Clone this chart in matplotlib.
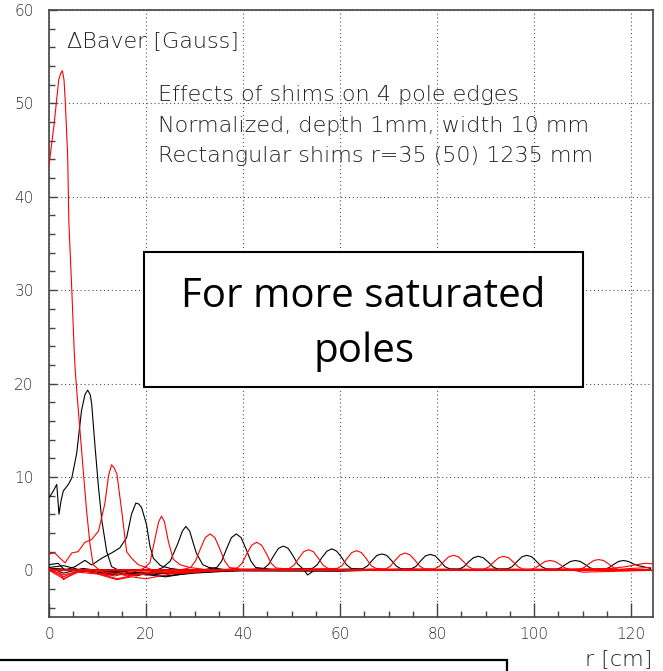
import matplotlib
matplotlib.use("Agg")
import matplotlib.pyplot as plt
from matplotlib.patches import Rectangle
from matplotlib.ticker import MultipleLocator

W, H = 663, 671

# ---- curves: r [cm] vs dB [Gauss] ----
r1_x = [0, 0.5, 1.0, 1.5, 2.0, 2.4, 2.75, 3.1, 3.4, 3.85, 4.1, 4.7, 5.2, 5.4, 6.05, 7.07, 7.76, 8.45, 9.1, 10, 12, 14, 16, 18, 21, 25, 30, 40, 124]
r1_y = [43.3, 45.5, 47.5, 50, 52.5, 53.2, 53.5, 52.5, 49.7, 44.3, 37.2, 30, 23.5, 21.4, 17.1, 10.6, 6.3, 2.8, 0.6, 0.2, -0.5, -0.3, -0.6, -0.4, -0.2, -0.3, -0.1, 0, 0]

k1_x = [0, 0.55, 1.0, 1.6, 2.06, 2.5, 2.95, 4.0, 4.7, 5.7, 6.7, 7.4, 7.97, 8.5, 8.8, 9.5, 10.2, 10.9, 11.9, 12.9, 14, 16, 18, 20, 23, 26, 30, 40, 124]
k1_y = [7.8, 8.2, 8.6, 9.2, 6.0, 7.5, 8.5, 9.2, 9.9, 12.5, 17.1, 18.8, 19.3, 18.8, 17.8, 13.2, 8.9, 5.3, 2.0, 0.4, 0.1, -0.2, -0.3, -0.5, -0.2, -0.4, -0.1, 0.05, 0]

r2_x = [0, 1.2, 2.27, 3.3, 4.7, 6.0, 7.4, 8.8, 10.2, 11.5, 12.3, 12.9, 13.4, 14.0, 15.0, 16.0, 17.0, 18.4, 20, 22, 25, 28, 32, 40, 124]
r2_y = [1.75, 1.86, 1.3, 0.8, 1.86, 2.0, 3.0, 3.3, 4.2, 7.1, 10.2, 11.3, 11.0, 10.3, 6.3, 2.0, 1.3, 0.6, 0.3, -0.1, -0.3, -0.2, -0.1, 0.1, 0]

k2_x = [0, 1.9, 3.3, 5.4, 7.4, 8.8, 10.9, 12.9, 14.6, 16.0, 17.0, 17.9, 18.5, 19.1, 20.1, 20.8, 21.5, 23, 25, 28, 32, 40, 124]
k2_y = [0.6, 0.75, 0.0, 0.4, 1.07, 0.57, 1.3, 1.86, 2.4, 3.5, 6.0, 7.2, 7.1, 6.7, 4.9, 2.6, 1.3, 0.5, 0.2, 0.0, -0.2, 0.1, 0]

r3_x = [0, 2, 3, 5, 7, 9, 11, 13.6, 16, 18, 19.5, 20.8, 21.9, 22.6, 23.2, 23.8, 24.6, 25.6, 27, 29, 32, 36, 40, 124]
r3_y = [0.2, 0.0, -1.0, -0.3, 0.1, -0.2, -0.4, -0.6, -0.3, -0.1, 0.2, 0.8, 3.5, 5.2, 5.8, 5.2, 3.1, 1.2, 0.6, 0.3, 0.1, 0.0, 0.1, 0]

k3_x = [0, 3, 6, 9, 12, 15, 18, 21, 23.5, 25, 26.5, 27.5, 28.2, 29, 29.8, 30.4, 31.7, 33, 36, 40, 124]
k3_y = [0.3, 0.5, 0.1, -0.2, -0.5, -0.3, -0.6, -0.2, 0.3, 1.0, 2.8, 4.2, 4.7, 4.2, 2.8, 1.8, 0.6, 0.3, 0.1, 0.0, 0]

r4_x = [0, 3, 6, 10, 14, 18, 22, 26, 29.2, 30.2, 31.2, 32.2, 33.2, 34.2, 35.2, 36.2, 37.2, 40, 124]
r4_y = [0.1, -0.7, 0.0, -0.3, -0.9, -0.5, -0.3, -0.1, 0.3, 1.0, 2.3, 3.5, 3.9, 3.5, 2.3, 1.0, 0.3, 0.1, 0]

k4_x = [0, 5, 10, 15, 20, 25, 30, 34.6, 35.6, 36.6, 37.6, 38.6, 39.6, 40.6, 41.6, 42.6, 46, 55, 124]
k4_y = [0.2, 0.0, -0.2, -0.1, -0.4, -0.3, -0.1, 0.3, 1.0, 2.3, 3.5, 3.9, 3.5, 2.3, 1.0, 0.3, 0.1, 0, 0]

r5_x = [0, 3, 6, 10, 14, 17, 20, 25, 30, 35, 38.8, 39.8, 40.8, 41.8, 42.8, 43.8, 44.8, 45.8, 46.8, 50, 124]
r5_y = [0.0, -0.9, -0.2, -0.4, -1.0, -0.7, -0.9, -0.4, -0.2, 0.0, 0.25, 0.75, 1.8, 2.7, 3.0, 2.7, 1.8, 0.75, 0.25, 0.1, 0]

k5_x = [0, 3, 7, 11, 15, 19, 24, 30, 40, 44.3, 45.3, 46.3, 47.3, 48.3, 49.3, 50.3, 51.3, 52.3, 53.3, 55, 70, 124]
k5_y = [0.3, -0.3, 0.2, -0.1, -0.3, -0.4, -0.7, -0.2, 0.0, 0.2, 0.65, 1.55, 2.35, 2.6, 2.35, 1.55, 0.65, 0.2, -0.5, 0.1, 0, 0]

r6_x = [0, 3, 8, 13, 17, 22, 28, 35, 48, 49.5, 50.5, 51.5, 52.5, 53.5, 54.5, 55.5, 56.5, 57.5, 60, 124]
r6_y = [0.1, -0.5, 0.1, -0.3, -0.5, -0.2, -0.3, 0, 0.1, 0.2, 0.55, 1.3, 2.0, 2.2, 2.0, 1.3, 0.55, 0.2, 0.1, 0]

k6_x = [0, 4, 9, 14, 19, 24, 30, 40, 54.3, 55.3, 56.3, 57.3, 58.3, 59.3, 60.3, 61.3, 62.3, 65, 124]
k6_y = [0.2, 0.1, -0.2, -0.4, -0.2, -0.6, -0.3, 0, 0.2, 0.6, 1.4, 2.05, 2.3, 2.05, 1.4, 0.6, 0.2, 0.1, 0]

r7_x = [0, 30, 59.4, 60.4, 61.4, 62.4, 63.4, 64.4, 65.4, 66.4, 67.4, 70, 124]
r7_y = [0, -0.1, 0.2, 0.5, 1.25, 1.9, 2.1, 1.9, 1.25, 0.5, 0.2, 0.1, 0]

k7_x = [0, 50, 64.6, 65.6, 66.6, 67.6, 68.6, 69.6, 70.6, 71.6, 72.6, 76, 124]
k7_y = [0.1, 0, 0.15, 0.45, 1.05, 1.6, 1.75, 1.6, 1.05, 0.45, 0.15, 0.1, 0]

r8_x = [0, 60, 69.4, 70.4, 71.4, 72.4, 73.4, 74.4, 75.4, 76.4, 77.4, 80, 124]
r8_y = [0, 0, 0.15, 0.45, 1.1, 1.65, 1.85, 1.65, 1.1, 0.45, 0.15, 0.1, 0]

k8_x = [0, 60, 74.6, 75.6, 76.6, 77.6, 78.6, 79.6, 80.6, 81.6, 82.6, 86, 124]
k8_y = [0, -0.1, 0.15, 0.4, 1.0, 1.55, 1.7, 1.55, 1.0, 0.4, 0.15, 0.1, 0]

r9_x = [0, 70, 79.4, 80.4, 81.4, 82.4, 83.4, 84.4, 85.4, 86.4, 87.4, 90, 124]
r9_y = [0, 0.1, 0.15, 0.4, 0.95, 1.45, 1.6, 1.45, 0.95, 0.4, 0.15, 0.1, 0]

k9_x = [0, 70, 84.5, 85.5, 86.5, 87.5, 88.5, 89.5, 90.5, 91.5, 92.5, 96, 124]
k9_y = [0, 0, 0.12, 0.38, 0.9, 1.35, 1.5, 1.35, 0.9, 0.38, 0.12, 0.1, 0]

r10_x = [0, 80, 89.7, 90.7, 91.7, 92.7, 93.7, 94.7, 95.7, 96.7, 97.7, 100, 124]
r10_y = [0, 0, 0.12, 0.38, 0.9, 1.35, 1.5, 1.35, 0.9, 0.38, 0.12, 0.1, 0]

k10_x = [0, 80, 94.5, 95.5, 96.5, 97.5, 98.5, 99.5, 100.5, 101.5, 102.5, 106, 124]
k10_y = [0, 0, 0.15, 0.4, 0.95, 1.45, 1.6, 1.45, 0.95, 0.4, 0.15, 0.1, 0]

r11_x = [0, 90, 99.3, 100.3, 101.3, 102.3, 103.3, 104.3, 105.3, 106.3, 107.3, 110, 124]
r11_y = [0, 0, 0.1, 0.27, 0.63, 0.95, 1.05, 0.95, 0.63, 0.27, 0.1, -0.2, 0]

k11_x = [0, 90, 104.5, 105.5, 106.5, 107.5, 108.5, 109.5, 110.5, 111.5, 112.5, 116, 124]
k11_y = [0, 0, 0.1, 0.27, 0.63, 0.95, 1.05, 0.95, 0.63, 0.27, 0.1, 0.1, 0]

r12_x = [0, 100, 109.3, 110.3, 111.3, 112.3, 113.3, 114.3, 115.3, 116.3, 117.3, 120, 124]
r12_y = [0, 0, 0.1, 0.3, 0.7, 1.05, 1.15, 1.05, 0.7, 0.3, 0.1, 0.2, 0.3]

k12_x = [0, 100, 114.4, 115.4, 116.4, 117.4, 118.4, 119.4, 120.4, 121.4, 122.4, 124]
k12_y = [0, 0, 0.1, 0.27, 0.63, 0.95, 1.05, 0.95, 0.7, 0.5, 0.4, 0.2]

r13_x = [0, 100, 116, 119, 121, 123, 124.3]
r13_y = [0, 0.1, 0.2, 0.4, 0.6, 0.75, 0.7]

zero_x = [0, 124.5]
zero_y = [0, 0]

red_curves = [(r1_x, r1_y), (r2_x, r2_y), (r3_x, r3_y), (r4_x, r4_y), (r5_x, r5_y),
              (r6_x, r6_y), (r7_x, r7_y), (r8_x, r8_y), (r9_x, r9_y), (r10_x, r10_y),
              (r11_x, r11_y), (r12_x, r12_y), (r13_x, r13_y), (zero_x, zero_y)]
black_curves = [(k1_x, k1_y), (k2_x, k2_y), (k3_x, k3_y), (k4_x, k4_y), (k5_x, k5_y),
                (k6_x, k6_y), (k7_x, k7_y), (k8_x, k8_y), (k9_x, k9_y), (k10_x, k10_y),
                (k11_x, k11_y), (k12_x, k12_y)]

x_ticks = [0, 20, 40, 60, 80, 100, 120]
y_ticks = [0, 10, 20, 30, 40, 50, 60]

info_lines = ["Effects of shims on 4 pole edges",
              "Normalized, depth 1mm, width 10 mm",
              "Rectangular shims r=35 (50) 1235 mm"]

plt.rcParams["font.family"] = ["DejaVu Sans"]
fig = plt.figure(figsize=(W / 100, H / 100), dpi=100)

def fx(px):
    return px / W

def fy(py):
    return 1 - py / H

ax = fig.add_axes([fx(49), fy(617), (653 - 49) / W, (617 - 10) / H])
ax.set_xlim(0, 124.5)
ax.set_ylim(-5, 60)

for xs, ys in black_curves:
    ax.plot(xs, ys, color="black", lw=0.8, zorder=3)
for xs, ys in red_curves:
    ax.plot(xs, ys, color="red", lw=0.8, zorder=3)

ax.set_xticks(x_ticks)
ax.set_yticks(y_ticks)
ax.xaxis.set_minor_locator(MultipleLocator(5))
ax.yaxis.set_minor_locator(MultipleLocator(2))
ax.grid(which="major", color="#555555", linestyle=(0, (1, 2.5)), lw=0.8, zorder=1)
ax.tick_params(axis="x", which="major", direction="in", length=10, width=1,
               color="#444444", labelsize=11, labelcolor="#333333", pad=7, top=False)
ax.tick_params(axis="x", which="minor", direction="in", length=4.5, width=1,
               color="#444444", top=False)
ax.tick_params(axis="y", which="major", direction="in", length=6, width=1,
               color="#444444", labelsize=11, labelcolor="#333333", pad=11, right=False)
ax.tick_params(axis="y", which="minor", direction="in", length=4.5, width=1,
               color="#444444", right=False)
for lab in ax.get_xticklabels() + ax.get_yticklabels():
    lab.set_fontweight(200)
for sp in ax.spines.values():
    sp.set_color("#444444")
    sp.set_linewidth(1.2)

ax.text((67 - 49) / 604, (617 - 46.7) / 607, "\u0394Baver [Gauss]",
        transform=ax.transAxes, ha="left", va="baseline", fontsize=16,
        color="#222222", fontweight=200)
for line, base in zip(info_lines, [101, 131.7, 161.7]):
    ax.text((158 - 49) / 604, (617 - base) / 607, line, transform=ax.transAxes,
            ha="left", va="baseline", fontsize=16, color="#222222", fontweight=200)

# boxed annotation
box = Rectangle((fx(144), fy(387)), fx(583) - fx(144), fy(252) - fy(387),
                transform=fig.transFigure, facecolor="white", edgecolor="black",
                lw=1.5, zorder=10)
fig.add_artist(box)
fig.text(fx(363.5), fy(307), "For more saturated", ha="center", va="baseline",
         fontsize=29, family=["Open Sans", "DejaVu Sans"], color="black", zorder=11)
fig.text(fx(363.5), fy(362), "poles", ha="center", va="baseline",
         fontsize=29, family=["Open Sans", "DejaVu Sans"], color="black", zorder=11)

fig.text(fx(652), fy(665), "r [cm]", ha="right", va="baseline", fontsize=16,
         color="#222222", fontweight=200)

# partial box cut off at the bottom of the slide
fig.add_artist(Rectangle((fx(-5), fy(690)), fx(507) - fx(-5), fy(660) - fy(690),
                         transform=fig.transFigure, facecolor="none",
                         edgecolor="black", lw=1.6))

fig.savefig("out.png", dpi=100)
